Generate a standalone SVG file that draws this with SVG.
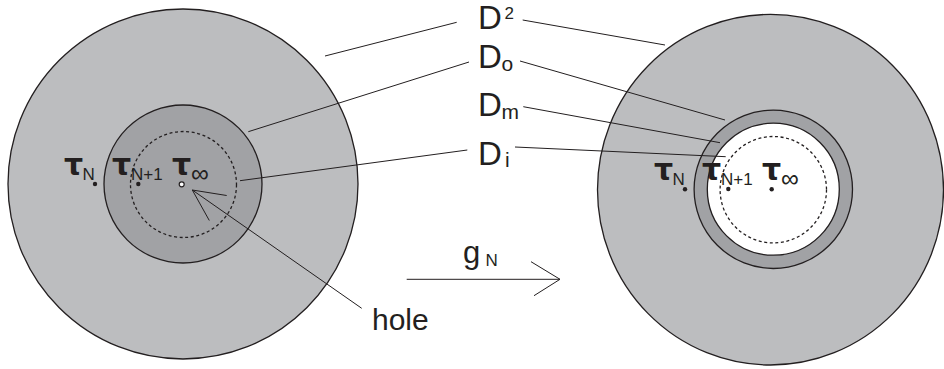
<svg xmlns="http://www.w3.org/2000/svg" width="944" height="369" viewBox="0 0 944 369">
<style>
.outer{fill:#bcbdbf;stroke:#231f20;stroke-width:1.3}
.mid{fill:#a1a2a5;stroke:#231f20;stroke-width:1.3}
.hole{fill:#ffffff;stroke:#231f20;stroke-width:1.3}
.dash{fill:none;stroke:#231f20;stroke-width:1.3;stroke-dasharray:3 2.6}
.ln{stroke:#231f20;stroke-width:1;fill:none}
text{font-family:"Liberation Sans",Arial,sans-serif;fill:#231f20}
.big{font-size:33px}
.sub{font-size:21px}
.tau{font-family:"DejaVu Sans",sans-serif;font-size:30px;font-weight:bold}
.ts{font-size:17px}
.inf{font-size:25px}
</style>
<g id="left-disk">
  <circle class="outer" cx="183" cy="184" r="175"/>
  <circle class="mid" cx="183" cy="184" r="79"/>
  <circle class="dash" cx="183.5" cy="184.5" r="53"/>
  <circle cx="95" cy="184" r="2.2" fill="#231f20"/>
  <circle cx="138.3" cy="184" r="2.2" fill="#231f20"/>
  <circle cx="181.7" cy="184.3" r="2.5" fill="#ffffff" stroke="#231f20" stroke-width="1.2"/>
  <text class="tau" x="64" y="175">τ</text><text class="ts" x="82.5" y="180">N</text>
  <text class="tau" x="112" y="175">τ</text><text class="ts" x="131" y="180">N+1</text>
  <text class="tau" x="172" y="175">τ</text><text class="inf" x="191" y="182">∞</text>
</g>
<g id="right-disk">
  <ellipse class="outer" cx="770.5" cy="189.7" rx="173" ry="175.3"/>
  <circle class="mid" cx="773.3" cy="189.3" r="79.2"/>
  <circle class="hole" cx="773.3" cy="189.2" r="66"/>
  <circle class="dash" cx="773.3" cy="189.7" r="53.2"/>
  <circle cx="685" cy="189.3" r="2.2" fill="#231f20"/>
  <circle cx="728.3" cy="189" r="2.2" fill="#231f20"/>
  <circle cx="771.7" cy="189.3" r="2.2" fill="#231f20"/>
  <text class="tau" x="654" y="180">τ</text><text class="ts" x="672.5" y="185">N</text>
  <text class="tau" x="702" y="180">τ</text><text class="ts" x="721" y="185">N+1</text>
  <text class="tau" x="762" y="180">τ</text><text class="inf" x="781" y="187">∞</text>
</g>
<g id="connectors">
  <line class="ln" x1="456.7" y1="22.3" x2="325" y2="56"/>
  <line class="ln" x1="522.7" y1="20" x2="665" y2="45"/>
  <line class="ln" x1="469" y1="62" x2="248.3" y2="131.7"/>
  <line class="ln" x1="520" y1="61" x2="725" y2="120"/>
  <line class="ln" x1="523.3" y1="106.7" x2="720" y2="142.7"/>
  <line class="ln" x1="467.3" y1="150" x2="240" y2="180.7"/>
  <line class="ln" x1="515" y1="147" x2="725.7" y2="156.7"/>
  <line class="ln" x1="192.3" y1="190" x2="361.7" y2="308.3"/>
  <polyline class="ln" points="226.7,195.5 192.3,190 209.3,220.5"/>
  <line class="ln" x1="406.7" y1="279.3" x2="560" y2="279.3"/>
  <polyline class="ln" points="531,261.7 560,279.3 534,295.7"/>
</g>
<g id="labels">
  <text class="big" x="478" y="28.5">D</text><text x="504.5" y="19" font-size="17px">2</text>
  <text class="big" x="478" y="68">D</text><text class="sub" x="501.5" y="71">o</text>
  <text class="big" x="478" y="116">D</text><text class="sub" x="501.5" y="119">m</text>
  <text class="big" x="478" y="165">D</text><text class="sub" x="505" y="167">i</text>
  <text x="372" y="330" font-size="30px">hole</text>
  <text x="463" y="263" font-size="31px">g</text><text x="485.5" y="266" font-size="17px">N</text>
</g>
</svg>
